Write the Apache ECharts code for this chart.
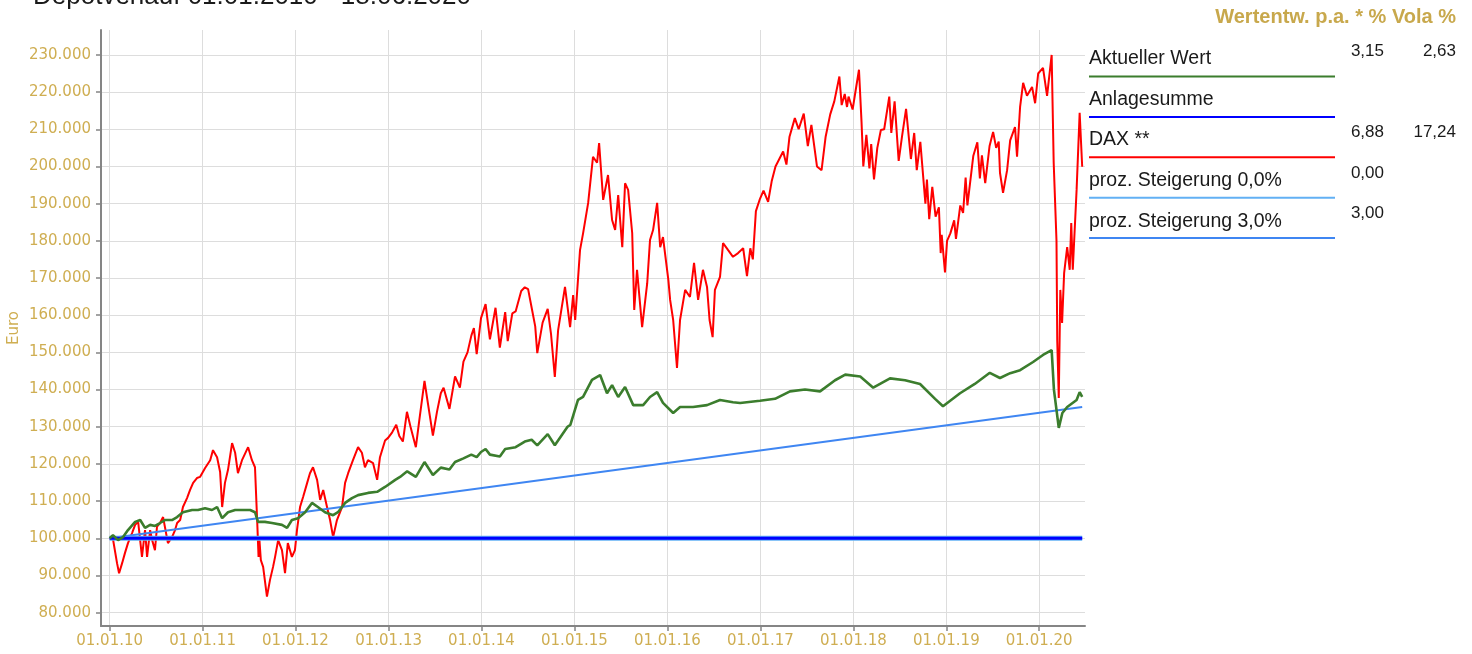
<!DOCTYPE html>
<html>
<head>
<meta charset="utf-8">
<title>Depotverlauf</title>
<script src="https://cdn.jsdelivr.net/npm/echarts@6/dist/echarts.min.js"></script>
<style>
  html, body { margin: 0; padding: 0; background: #ffffff; }
  #plot { width: 1472px; height: 654px; }
</style>
</head>
<body>
<div id="plot"></div>
<script>
// =============================== //
//
// Depotverlauf vs. DAX
//
// =============================== //

// Title
const chartTitle = "Depotverlauf 01.01.2010 - 18.06.2020";

// Axis ticks (x: 1st of January each year, y: thousand euro)
const yearTicks = ["2010-01-01", "2011-01-01", "2012-01-01", "2013-01-01", "2014-01-01", "2015-01-01",
    "2016-01-01", "2017-01-01", "2018-01-01", "2019-01-01", "2020-01-01"];
const euroTicks = [80, 90, 100, 110, 120, 130, 140, 150, 160, 170, 180, 190, 200, 210, 220, 230];

// Legend / table on the right
const legendNames = ["Aktueller Wert", "Anlagesumme", "DAX **", "proz. Steigerung 0,0%", "proz. Steigerung 3,0%"];
const tableHeader = "Wertentw. p.a. * % Vola %";
const growthPa = ["3,15", "", "6,88", "0,00", "3,00"];
const volaPa = ["2,63", "", "17,24", "", ""];

// Series values in thousand euro
const daxSeries = [
    ["2010-01-01", 100.0], ["2010-01-14", 99.8], ["2010-01-30", 93.3], ["2010-02-07", 90.6], ["2010-02-19", 93.3],
    ["2010-03-02", 96.0], ["2010-03-14", 98.7], ["2010-03-30", 101.4], ["2010-04-11", 103.6], ["2010-04-23", 104.4],
    ["2010-05-08", 95.0], ["2010-05-20", 102.2], ["2010-05-28", 95.0], ["2010-06-09", 102.2], ["2010-06-17", 99.5],
    ["2010-06-28", 96.8], ["2010-07-06", 103.1], ["2010-07-18", 104.1], ["2010-07-30", 105.7], ["2010-08-06", 103.1],
    ["2010-08-18", 98.7], ["2010-09-03", 100.3], ["2010-09-15", 102.2], ["2010-09-23", 104.1], ["2010-10-05", 104.9],
    ["2010-10-16", 108.4], ["2010-11-01", 110.8], ["2010-11-13", 113.0], ["2010-11-25", 114.9], ["2010-12-10", 116.2],
    ["2010-12-22", 116.5],
    ["2011-01-11", 118.9], ["2011-01-31", 121.0], ["2011-02-11", 123.7], ["2011-02-27", 121.8], ["2011-03-11", 117.8],
    ["2011-03-19", 108.4], ["2011-03-30", 114.9], ["2011-04-11", 118.4], ["2011-04-27", 125.6], ["2011-05-09", 123.0],
    ["2011-05-20", 117.5], ["2011-06-05", 121.0], ["2011-06-29", 124.5], ["2011-07-14", 121.0], ["2011-07-26", 119.1],
    ["2011-08-04", 104.0], ["2011-08-09", 95.0], ["2011-08-12", 100.0], ["2011-08-18", 94.1], ["2011-08-27", 92.3],
    ["2011-09-11", 84.3], ["2011-09-23", 88.8], ["2011-10-05", 92.3], ["2011-10-13", 95.0], ["2011-10-25", 99.5],
    ["2011-11-09", 96.8], ["2011-11-21", 90.6], ["2011-12-02", 98.7], ["2011-12-18", 95.0], ["2011-12-30", 96.8],
    ["2012-01-07", 102.2], ["2012-01-19", 108.4], ["2012-01-31", 111.1], ["2012-02-16", 114.9], ["2012-02-27", 117.5],
    ["2012-03-10", 119.1], ["2012-03-26", 115.7], ["2012-04-07", 110.3], ["2012-04-19", 113.0], ["2012-05-04", 108.4],
    ["2012-05-16", 104.9], ["2012-05-28", 100.3], ["2012-06-12", 104.9], ["2012-07-02", 108.4], ["2012-07-14", 114.9],
    ["2012-07-26", 117.5], ["2012-08-14", 121.0], ["2012-09-03", 124.5], ["2012-09-18", 123.0], ["2012-09-30", 119.1],
    ["2012-10-12", 121.0], ["2012-11-01", 120.2], ["2012-11-17", 115.7], ["2012-11-28", 121.8], ["2012-12-18", 126.3],
    ["2012-12-30", 127.0],
    ["2013-01-15", 128.5], ["2013-01-31", 130.5], ["2013-02-12", 127.5], ["2013-02-26", 126.0], ["2013-03-14", 134.0],
    ["2013-03-28", 130.0], ["2013-04-18", 124.5], ["2013-05-02", 132.0], ["2013-05-22", 142.3], ["2013-06-05", 136.0],
    ["2013-06-24", 127.6], ["2013-07-10", 134.0], ["2013-07-25", 139.0], ["2013-08-05", 140.5], ["2013-08-28", 134.8],
    ["2013-09-19", 143.5], ["2013-10-08", 140.5], ["2013-10-22", 147.5], ["2013-11-07", 150.0], ["2013-11-22", 154.5],
    ["2013-12-02", 156.5], ["2013-12-13", 149.5], ["2013-12-30", 159.2],
    ["2014-01-17", 163.0], ["2014-02-03", 153.5], ["2014-02-25", 162.0], ["2014-03-14", 151.3], ["2014-04-04", 160.8],
    ["2014-04-14", 153.0], ["2014-05-02", 160.5], ["2014-05-15", 161.0], ["2014-06-06", 166.5], ["2014-06-20", 167.5],
    ["2014-07-03", 167.0], ["2014-07-17", 162.0], ["2014-07-31", 157.0], ["2014-08-08", 149.8], ["2014-08-29", 158.0],
    ["2014-09-18", 161.7], ["2014-10-01", 155.0], ["2014-10-16", 143.4], ["2014-10-29", 156.0], ["2014-11-25", 167.6],
    ["2014-12-15", 156.8], ["2014-12-27", 165.4],
    ["2015-01-04", 158.7], ["2015-01-23", 177.5], ["2015-02-04", 182.0], ["2015-02-24", 190.2], ["2015-03-15", 202.6],
    ["2015-03-31", 201.0], ["2015-04-08", 206.3], ["2015-04-24", 191.0], ["2015-05-13", 197.7], ["2015-05-29", 185.6],
    ["2015-06-10", 182.9], ["2015-06-22", 192.3], ["2015-07-08", 178.3], ["2015-07-19", 195.5], ["2015-07-31", 193.7],
    ["2015-08-16", 182.1], ["2015-08-24", 161.4], ["2015-09-04", 172.2], ["2015-09-24", 156.8], ["2015-10-14", 168.6],
    ["2015-10-25", 180.2], ["2015-11-06", 182.9], ["2015-11-22", 190.2], ["2015-12-04", 178.3], ["2015-12-15", 181.0],
    ["2016-01-05", 169.5], ["2016-01-12", 164.1], ["2016-01-24", 158.7], ["2016-02-08", 145.8], ["2016-02-20", 158.7],
    ["2016-03-11", 166.8], ["2016-03-30", 164.9], ["2016-04-15", 174.1], ["2016-05-01", 164.1], ["2016-05-20", 172.2],
    ["2016-06-05", 167.6], ["2016-06-15", 158.7], ["2016-06-27", 154.1], ["2016-07-06", 166.8], ["2016-07-26", 170.3],
    ["2016-08-07", 179.4], ["2016-08-27", 177.5], ["2016-09-15", 175.7], ["2016-10-05", 176.7], ["2016-10-25", 178.0],
    ["2016-11-09", 170.5], ["2016-11-22", 178.0], ["2016-12-02", 175.0], ["2016-12-14", 188.0], ["2016-12-30", 191.3],
    ["2017-01-13", 193.5], ["2017-01-31", 190.5], ["2017-02-14", 196.0], ["2017-03-01", 200.0], ["2017-03-16", 202.0],
    ["2017-03-31", 204.0], ["2017-04-13", 200.5], ["2017-04-25", 208.0], ["2017-05-16", 213.0], ["2017-05-31", 210.0],
    ["2017-06-20", 214.2], ["2017-07-06", 205.5], ["2017-07-20", 211.2], ["2017-08-11", 200.0], ["2017-08-29", 199.0],
    ["2017-09-14", 208.0], ["2017-10-02", 214.0], ["2017-10-18", 217.5], ["2017-11-07", 224.2], ["2017-11-16", 216.5],
    ["2017-11-28", 219.5], ["2017-12-07", 216.0], ["2017-12-13", 218.8], ["2017-12-29", 215.3],
    ["2018-01-10", 220.5], ["2018-01-23", 226.0], ["2018-02-02", 212.0], ["2018-02-09", 200.0], ["2018-02-21", 208.5],
    ["2018-03-05", 199.5], ["2018-03-12", 206.0], ["2018-03-23", 196.5], ["2018-04-05", 205.0], ["2018-04-19", 209.8],
    ["2018-05-02", 210.0], ["2018-05-22", 218.8], ["2018-05-30", 209.0], ["2018-06-12", 217.5], ["2018-06-28", 201.5],
    ["2018-07-11", 208.0], ["2018-07-27", 215.5], ["2018-08-15", 202.0], ["2018-08-28", 209.0], ["2018-09-07", 199.0],
    ["2018-09-21", 206.6], ["2018-10-11", 190.0], ["2018-10-17", 196.5], ["2018-10-26", 185.8], ["2018-11-07", 194.5],
    ["2018-11-20", 186.5], ["2018-12-03", 189.0], ["2018-12-10", 176.7], ["2018-12-14", 181.6], ["2018-12-27", 171.5],
    ["2019-01-04", 180.0], ["2019-01-17", 182.0], ["2019-02-01", 185.5], ["2019-02-08", 180.5], ["2019-02-25", 189.5],
    ["2019-03-08", 187.5], ["2019-03-18", 197.0], ["2019-03-25", 189.5], ["2019-04-17", 202.8], ["2019-05-03", 206.5],
    ["2019-05-13", 196.8], ["2019-05-21", 203.0], ["2019-06-03", 195.5], ["2019-06-20", 205.5], ["2019-07-04", 209.3],
    ["2019-07-16", 205.0], ["2019-07-26", 206.7], ["2019-07-31", 198.3], ["2019-08-12", 192.9], ["2019-08-28", 199.0],
    ["2019-09-09", 207.0], ["2019-09-28", 210.6], ["2019-10-06", 202.6], ["2019-10-18", 216.0], ["2019-10-30", 222.5],
    ["2019-11-14", 219.0], ["2019-12-04", 221.4], ["2019-12-16", 217.0], ["2019-12-28", 225.0],
    ["2020-01-16", 226.5], ["2020-02-01", 219.0], ["2020-02-19", 230.0], ["2020-02-27", 201.0], ["2020-03-09", 180.0],
    ["2020-03-12", 153.0], ["2020-03-18", 137.7], ["2020-03-24", 166.8], ["2020-03-31", 157.9], ["2020-04-08", 171.3],
    ["2020-04-20", 178.3], ["2020-04-30", 172.2], ["2020-05-06", 184.8], ["2020-05-12", 172.2], ["2020-05-27", 193.7],
    ["2020-06-08", 214.4], ["2020-06-18", 199.9]
];

const wertSeries = [
    ["2010-01-01", 100.0], ["2010-01-14", 100.8], ["2010-02-03", 99.5], ["2010-02-22", 100.3], ["2010-03-14", 102.2],
    ["2010-04-11", 104.4], ["2010-05-01", 104.9], ["2010-05-20", 102.8], ["2010-06-09", 103.6], ["2010-06-28", 103.3],
    ["2010-07-18", 104.1], ["2010-08-06", 104.9], ["2010-09-03", 104.9], ["2010-09-23", 105.7], ["2010-10-16", 107.0],
    ["2010-11-21", 107.6], ["2010-12-14", 107.6],
    ["2011-01-11", 108.1], ["2011-02-07", 107.6], ["2011-02-27", 108.4], ["2011-03-19", 105.4], ["2011-04-11", 107.0],
    ["2011-05-09", 107.6], ["2011-06-05", 107.6], ["2011-07-07", 107.6], ["2011-07-26", 107.0], ["2011-08-07", 104.4],
    ["2011-09-03", 104.4], ["2011-10-01", 104.1], ["2011-11-09", 103.6], ["2011-11-29", 102.8], ["2011-12-18", 104.9],
    ["2012-01-11", 105.4], ["2012-02-08", 107.0], ["2012-03-06", 109.5], ["2012-03-29", 108.4], ["2012-04-26", 107.0],
    ["2012-05-28", 106.2], ["2012-06-16", 107.0], ["2012-07-14", 109.5], ["2012-08-10", 110.8], ["2012-09-03", 111.6],
    ["2012-10-12", 112.2], ["2012-11-17", 112.5], ["2012-12-18", 113.8],
    ["2013-01-27", 115.7], ["2013-02-15", 116.5], ["2013-03-15", 118.0], ["2013-04-18", 116.5], ["2013-05-22", 120.5],
    ["2013-06-24", 117.0], ["2013-07-25", 119.0], ["2013-08-28", 118.5], ["2013-09-19", 120.5], ["2013-10-22", 121.5],
    ["2013-11-22", 122.5], ["2013-12-13", 121.8], ["2013-12-30", 123.2],
    ["2014-01-17", 124.0], ["2014-02-03", 122.5], ["2014-03-14", 122.0], ["2014-04-04", 124.0], ["2014-05-15", 124.5],
    ["2014-06-20", 126.0], ["2014-07-17", 126.5], ["2014-08-08", 125.0], ["2014-09-18", 128.0], ["2014-10-16", 125.0],
    ["2014-11-10", 127.5], ["2014-12-05", 130.0], ["2014-12-16", 130.5],
    ["2015-01-15", 137.2], ["2015-02-04", 138.0], ["2015-03-11", 142.6], ["2015-04-12", 143.9], ["2015-05-09", 139.0],
    ["2015-05-29", 141.2], ["2015-06-22", 138.0], ["2015-07-19", 140.7], ["2015-08-20", 135.8], ["2015-09-28", 135.8],
    ["2015-10-25", 138.0], ["2015-11-22", 139.3], ["2015-12-15", 136.4],
    ["2016-01-24", 133.7], ["2016-02-20", 135.3], ["2016-04-11", 135.3], ["2016-06-05", 135.8], ["2016-07-26", 137.2],
    ["2016-09-15", 136.6], ["2016-10-13", 136.4], ["2016-12-30", 137.0],
    ["2017-02-27", 137.5], ["2017-04-27", 139.5], ["2017-06-25", 140.0], ["2017-08-23", 139.5], ["2017-10-21", 142.5],
    ["2017-11-30", 144.0],
    ["2018-01-28", 143.5], ["2018-03-20", 140.5], ["2018-05-25", 143.0], ["2018-07-23", 142.5], ["2018-09-20", 141.5],
    ["2018-11-18", 137.5], ["2018-12-19", 135.5],
    ["2019-02-24", 139.0], ["2019-04-23", 141.5], ["2019-06-21", 144.5], ["2019-07-31", 143.1], ["2019-09-09", 144.4],
    ["2019-10-18", 145.2], ["2019-12-08", 147.4],
    ["2020-01-16", 149.3], ["2020-02-19", 150.6], ["2020-02-28", 139.9], ["2020-03-18", 129.7], ["2020-04-01", 133.7],
    ["2020-04-20", 135.3], ["2020-05-27", 137.2], ["2020-06-08", 139.3], ["2020-06-18", 138.0]
];

const anlageSeries = [["2010-01-01", 100.0], ["2020-06-18", 100.0]];
const steigerung0Series = [["2010-01-01", 100.0], ["2020-06-18", 100.0]];
const steigerung3Series = [["2010-01-01", 100.0], ["2020-06-18", 135.3]];

// Styles
const gold = "#cfae52";
const goldDark = "#c8a84c";
const axisGrey = "#858585";
const gridGrey = "#dddddd";
const lineColors = ["#3b7d2d", "#0000ff", "#ff0000", "#62b0f4", "#3f86f2"];
const textFont = "Liberation Sans, Arial, sans-serif";
const axisFont = "DejaVu Sans, sans-serif";

// Dates as timestamps (UTC) for the value axis
const toTime = d => Date.parse(d + "T00:00:00Z");
const toPoints = rows => rows.map(r => [toTime(r[0]), r[1]]);

// Format date as dd.mm.yy
function formatTick (value) {
    const d = new Date(value);
    const pad = n => String(n).padStart(2, "0");
    return pad(d.getUTCDate()) + "." + pad(d.getUTCMonth() + 1) + "." + String(d.getUTCFullYear()).slice(2);
}

// Legend on the right, drawn as graphic elements
const legendGraphic = [];
legendGraphic.push({
    type: "text",
    style: {
        text: tableHeader, x: 1456, y: 17,
        font: "bold 20px " + textFont, fill: goldDark,
        textAlign: "right", textVerticalAlign: "middle", verticalAlign: "middle"
    }
});
legendNames.forEach((name, i) => {
    legendGraphic.push({
        type: "text",
        style: {
            text: name, x: 1089, y: 58.5 + i * 40.7,
            font: "19.5px " + textFont, fill: "#1a1a1a",
            textAlign: "left", textVerticalAlign: "middle", verticalAlign: "middle"
        }
    });
    legendGraphic.push({
        type: "line",
        shape: { x1: 1089, y1: 76.5 + i * 40.4, x2: 1335, y2: 76.5 + i * 40.4 },
        style: { stroke: lineColors[i], lineWidth: 2 }
    });
    if (growthPa[i] !== "") {
        legendGraphic.push({
            type: "text",
            style: {
                text: growthPa[i], x: 1384, y: 51 + i * 40.7,
                font: "17px " + textFont, fill: "#1a1a1a",
                textAlign: "right", textVerticalAlign: "middle", verticalAlign: "middle"
            }
        });
    }
    if (volaPa[i] !== "") {
        legendGraphic.push({
            type: "text",
            style: {
                text: volaPa[i], x: 1456, y: 51 + i * 40.7,
                font: "17px " + textFont, fill: "#1a1a1a",
                textAlign: "right", textVerticalAlign: "middle", verticalAlign: "middle"
            }
        });
    }
});

// Initiate echarts instance
const echartsPlot = echarts.init(document.getElementById("plot"), null, { renderer: "canvas" });

const yearTickTimes = yearTicks.map(toTime);

const option = {
    animation: false,
    backgroundColor: "#ffffff",

    // TITLE
    title: {
        text: chartTitle,
        left: 28,
        top: -21,
        textStyle: { fontFamily: textFont, fontSize: 26, fontWeight: "normal", color: "#1a1a1a" }
    },

    // GRID
    grid: { left: 101, right: 387, top: 30, bottom: 28, containLabel: false, outerBoundsMode: "none" },

    // XAXIS
    xAxis: {
        type: "value",
        min: toTime("2009-11-28"),
        max: toTime("2020-06-29"),
        axisLine: { show: true, lineStyle: { color: axisGrey, width: 2 } },
        axisTick: { show: true, customValues: yearTickTimes, length: 5, lineStyle: { color: axisGrey, width: 1.5 } },
        axisLabel: {
            customValues: yearTickTimes, formatter: formatTick, color: gold,
            fontFamily: axisFont, fontSize: 15, margin: 8, hideOverlap: false
        },
        splitLine: { show: true, lineStyle: { color: gridGrey, width: 1 } }
    },

    // YAXIS
    yAxis: {
        type: "value",
        min: 76.4,
        max: 236.7,
        name: "Euro",
        nameLocation: "middle",
        nameGap: 79,
        nameMoveOverlap: false,
        nameTextStyle: { color: gold, fontFamily: axisFont, fontSize: 15 },
        axisLine: { show: true, lineStyle: { color: axisGrey, width: 2 } },
        axisTick: { show: true, customValues: euroTicks, length: 5, lineStyle: { color: axisGrey, width: 1.5 } },
        axisLabel: {
            customValues: euroTicks, formatter: v => v + ".000", color: gold,
            fontFamily: axisFont, fontSize: 15, margin: 10
        },
        splitLine: { show: true, lineStyle: { color: gridGrey, width: 1 } }
    },

    // SERIES
    series: [
        { name: legendNames[2], type: "line", data: toPoints(daxSeries), showSymbol: false,
          lineStyle: { color: lineColors[2], width: 2 } },
        { name: legendNames[4], type: "line", data: toPoints(steigerung3Series), showSymbol: false,
          lineStyle: { color: lineColors[4], width: 2 } },
        { name: legendNames[3], type: "line", data: toPoints(steigerung0Series), showSymbol: false,
          lineStyle: { color: lineColors[3], width: 5 } },
        { name: legendNames[1], type: "line", data: toPoints(anlageSeries), showSymbol: false,
          lineStyle: { color: lineColors[1], width: 3 } },
        { name: legendNames[0], type: "line", data: toPoints(wertSeries), showSymbol: false,
          lineStyle: { color: lineColors[0], width: 2.6 } }
    ],

    graphic: legendGraphic
};

// Display the chart
echartsPlot.setOption(option);
</script>
</body>
</html>
